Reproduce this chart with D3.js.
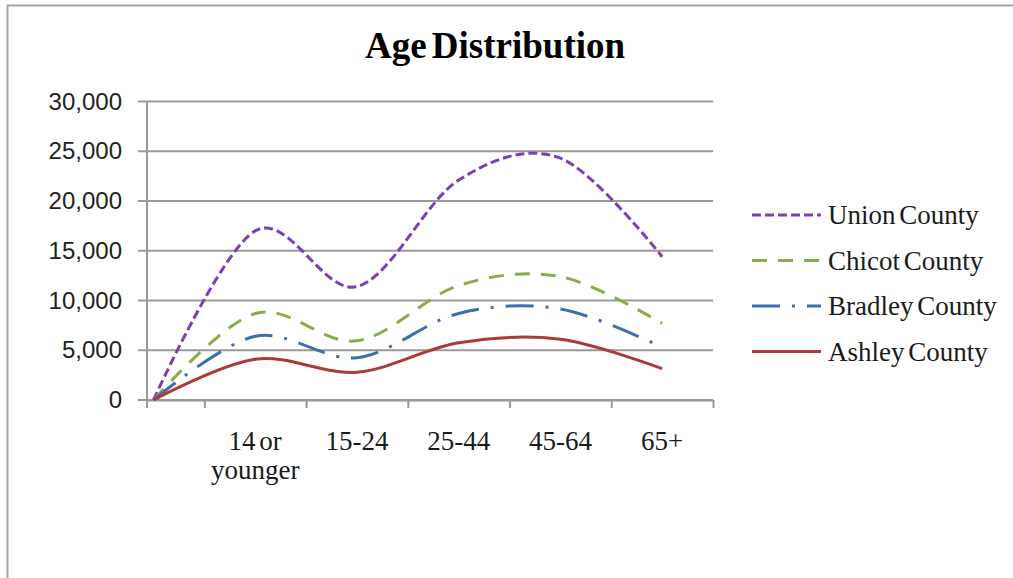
<!DOCTYPE html>
<html>
<head>
<meta charset="utf-8">
<script src="https://cdn.jsdelivr.net/npm/d3@7"></script>
<style>
  body { margin: 0; background: #fff; }
  svg { display: block; }
</style>
</head>
<body>
<div id="chart"></div>
<script>
// data (index 0 is the blank start category)
var categories = ["", "14 or younger", "15-24", "25-44", "45-64", "65+"];
var seriesNames = ["Union County", "Chicot County", "Bradley County", "Ashley County"];
var union = [0, 17000, 11400, 22100, 24300, 14400];
var chicot = [0, 8700, 5950, 11500, 12400, 7700];
var bradley = [0, 6400, 4250, 8700, 9150, 5300];
var ashley = [0, 4100, 2800, 5750, 6100, 3150];
var yTicks = [0, 5000, 10000, 15000, 20000, 25000, 30000];

var width = 1013,
    height = 578;

var colors = ["#7b3fb4", "#89ad4b", "#3d6fab", "#a93b3a"];
var dashes = ["9,4", "15,11", "28,12,3,12", null];
var allSeries = [union, chicot, bradley, ashley];

var svg = d3.select("#chart")
    .append("svg")
    .attr("width", width)
    .attr("height", height);

// chart frame (only left and top edges are in view)
svg.append("path")
    .attr("d", "M7.5," + height + "V5.5H" + width)
    .attr("fill", "none")
    .attr("stroke", "#a6a6a6")
    .attr("stroke-width", 2);

// scales
var x = d3.scaleLinear()
    .domain([-0.064, 5.5])
    .range([147, 713]);

var y = d3.scaleLinear()
    .domain([0, 30000])
    .range([400, 101.5]);

// title
svg.append("text")
    .attr("x", 495)
    .attr("y", 58)
    .attr("text-anchor", "middle")
    .style("font-family", "'Liberation Serif', serif")
    .style("font-weight", "bold")
    .style("font-size", "37px")
    .style("word-spacing", "-4px")
    .attr("fill", "#000")
    .text("Age Distribution");

// gridlines
svg.append("g")
    .attr("class", "grid")
    .selectAll("line")
    .data(yTicks)
    .enter()
    .append("line")
    .attr("x1", 138)
    .attr("x2", 713)
    .attr("y1", function (d) { return y(d); })
    .attr("y2", function (d) { return y(d); })
    .attr("stroke", "#999")
    .attr("stroke-width", 2);

// y axis
var yAxis = svg.append("g")
    .attr("transform", "translate(147,0)")
    .call(d3.axisLeft(y)
        .tickValues(yTicks)
        .tickFormat(d3.format(","))
        .tickSize(0)
        .tickPadding(25));
yAxis.select(".domain").remove();
yAxis.selectAll("text")
    .style("font-family", "'Liberation Sans', Arial, sans-serif")
    .style("font-size", "24px")
    .attr("fill", "#222");

svg.append("line")
    .attr("x1", 147).attr("x2", 147)
    .attr("y1", y(30000)).attr("y2", 408)
    .attr("stroke", "#999")
    .attr("stroke-width", 2);

// x axis ticks between categories
var xTickAxis = svg.append("g")
    .attr("transform", "translate(0," + y(0) + ")")
    .call(d3.axisBottom(x)
        .tickValues([0.5, 1.5, 2.5, 3.5, 4.5, 5.5])
        .tickFormat("")
        .tickSize(8)
        .tickSizeOuter(0));
xTickAxis.selectAll("line, path")
    .attr("stroke", "#999")
    .attr("stroke-width", 2);

// x category labels
var xLabels = svg.append("g")
    .attr("class", "xlabels")
    .selectAll("text")
    .data(categories.slice(1))
    .enter()
    .append("text")
    .attr("text-anchor", "middle")
    .attr("transform", function (d, i) { return "translate(" + x(i + 1) + ",450)"; })
    .style("font-family", "'Liberation Serif', serif")
    .style("font-size", "27px")
    .style("word-spacing", "-3px")
    .attr("fill", "#1a1a1a");

xLabels.each(function (d) {
    var words = d === "14 or younger" ? ["14 or", "younger"] : [d];
    var t = d3.select(this);
    words.forEach(function (w, k) {
        t.append("tspan")
            .attr("x", 0)
            .attr("y", k * 29)
            .text(w);
    });
});

// smoothed lines
var line = d3.line()
    .x(function (d, i) { return x(i); })
    .y(function (d) { return y(d); })
    .curve(d3.curveCardinal.tension(0));

svg.append("g")
    .attr("class", "lines")
    .selectAll("path")
    .data(allSeries)
    .enter()
    .append("path")
    .attr("d", line)
    .attr("fill", "none")
    .attr("stroke", function (d, i) { return colors[i]; })
    .attr("stroke-width", 3)
    .attr("stroke-dasharray", function (d, i) { return dashes[i]; });

// legend
var legend = svg.append("g")
    .attr("class", "legend")
    .selectAll("g")
    .data(seriesNames)
    .enter()
    .append("g")
    .attr("transform", function (d, i) { return "translate(752," + (215 + i * 45.5) + ")"; });

legend.append("line")
    .attr("x1", 0)
    .attr("x2", 69)
    .attr("stroke", function (d, i) { return colors[i]; })
    .attr("stroke-width", 3)
    .attr("stroke-dasharray", function (d, i) { return dashes[i]; });

legend.append("text")
    .attr("x", 76)
    .attr("y", 9)
    .style("font-family", "'Liberation Serif', serif")
    .style("font-size", "27px")
    .style("word-spacing", "-3px")
    .attr("fill", "#1a1a1a")
    .text(function (d) { return d; });
</script>
</body>
</html>
